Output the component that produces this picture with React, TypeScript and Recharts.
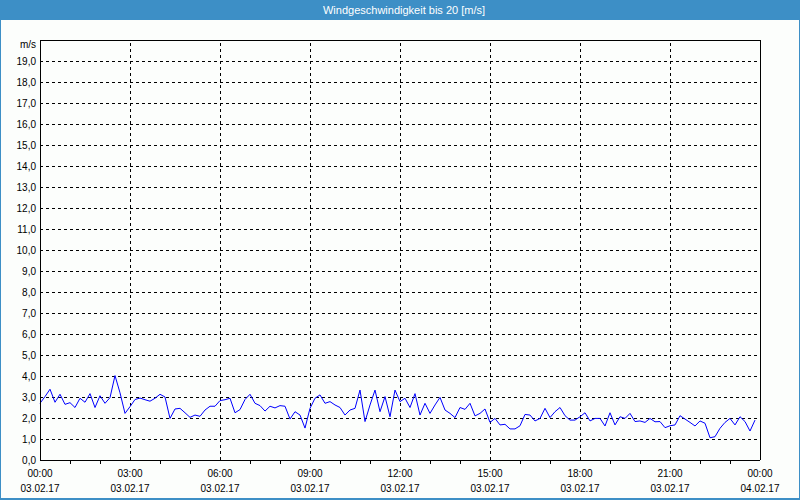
import React from 'react';
import { LineChart, Line, XAxis, YAxis, CartesianGrid, ReferenceLine } from 'recharts';

const title = 'Windgeschwindigkeit bis 20 [m/s]';
const unitLabel = 'm/s';

// wind speed every 10 minutes, 03.02.17 00:00 .. 23:50
const speeds: number[] = [
  2.70, 3.02, 3.37, 2.75, 3.13, 2.65, 2.73, 2.50, 2.94, 2.75,
  3.16, 2.50, 3.06, 2.70, 2.97, 4.02, 3.20, 2.22, 2.54, 2.88,
  2.95, 2.87, 2.80, 2.94, 3.13, 3.00, 1.98, 2.43, 2.46, 2.25,
  2.03, 2.14, 2.08, 2.38, 2.56, 2.56, 2.83, 2.87, 2.94, 2.25,
  2.40, 2.88, 3.13, 2.70, 2.59, 2.33, 2.56, 2.48, 2.59, 2.56,
  1.95, 2.30, 2.14, 1.52, 2.46, 2.94, 3.10, 2.70, 2.78, 2.62,
  2.50, 2.14, 2.38, 2.46, 3.33, 1.83, 2.62, 3.33, 2.30, 3.02,
  2.06, 3.33, 2.78, 2.94, 2.50, 3.16, 2.14, 2.70, 2.22, 2.62,
  2.98, 2.38, 2.22, 2.02, 2.50, 2.41, 2.70, 2.10, 2.22, 2.43,
  1.79, 1.98, 1.67, 1.70, 1.48, 1.48, 1.63, 2.17, 2.14, 1.86,
  1.98, 2.46, 2.02, 2.30, 2.50, 2.11, 1.90, 1.90, 2.06, 2.25,
  1.86, 1.98, 1.98, 1.62, 2.25, 1.67, 2.06, 1.98, 2.22, 1.83,
  1.86, 1.79, 1.98, 1.82, 1.83, 1.54, 1.63, 1.67, 2.11, 1.95,
  1.79, 1.62, 1.86, 1.75, 1.06, 1.11, 1.51, 1.79, 1.98, 1.67,
  2.06, 1.83, 1.38, 1.90,
];

// x ticks in 10-minute steps (every hour)
const hourTicks: number[] = [0, 6, 12, 18, 24, 30, 36, 42, 48, 54, 60, 66, 72, 78, 84, 90, 96, 102, 108, 114, 120, 126, 132, 138, 144];
const labelTicks: number[] = [0, 18, 36, 54, 72, 90, 108, 126, 144];
const timeLabels: string[] = ['00:00', '03:00', '06:00', '09:00', '12:00', '15:00', '18:00', '21:00', '00:00'];
const dateLabels: string[] = ['03.02.17', '03.02.17', '03.02.17', '03.02.17', '03.02.17', '03.02.17', '03.02.17', '03.02.17', '04.02.17'];
const gridTicks: number[] = [18, 36, 54, 72, 90, 108, 126];
const yTicks: number[] = [0, 1, 2, 3, 4, 5, 6, 7, 8, 9, 10, 11, 12, 13, 14, 15, 16, 17, 18, 19, 20];

const data = speeds.map((v, i) => ({ t: i, v }));

const FONT = '"Liberation Sans", Arial, sans-serif';

const XTick = (props: any) => {
  const { x, y, payload } = props;
  const idx = labelTicks.indexOf(payload.value);
  if (idx < 0) {
    return <line x1={x} x2={x} y1={y} y2={y + 4} stroke="#000" strokeWidth={1} shapeRendering="crispEdges" />;
  }
  return (
    <g>
      <text x={x} y={y + 17} textAnchor="middle" fontFamily={FONT} fontSize={10} fill="#000">{timeLabels[idx]}</text>
      <text x={x} y={y + 32} textAnchor="middle" fontFamily={FONT} fontSize={10} fill="#000">{dateLabels[idx]}</text>
    </g>
  );
};

const YTick = (props: any) => {
  const { x, y, payload } = props;
  const v = payload.value as number;
  const label = v === 20 ? unitLabel : v.toFixed(1).replace('.', ',');
  return (
    <text x={x} y={y + (v === 20 ? 8 : 4)} textAnchor="end" fontFamily={FONT} fontSize={10} fill="#000">{label}</text>
  );
};

export default function App() {
  return (
    <div style={{ position: 'absolute', left: 0, top: 0, width: 800, height: 500, background: '#3d8fc6' }}>
      <div style={{ position: 'absolute', left: 0, top: 0, width: 800, height: 20, color: '#fff', fontFamily: FONT, fontSize: 11, lineHeight: '20px', textAlign: 'center', paddingLeft: 8, boxSizing: 'border-box' }}>
        {title}
      </div>
      <div style={{ position: 'absolute', left: 1, top: 20, width: 798, height: 478, background: '#fcfefc' }} />
      <div style={{ position: 'absolute', left: 0, top: 20 }}>
        <LineChart width={800} height={480} data={data} margin={{ top: 20, right: 40, bottom: 20, left: 8 }}>
          <CartesianGrid vertical={false} stroke="#000" strokeDasharray="3 3" shapeRendering="crispEdges" />
          <XAxis
            dataKey="t"
            type="number"
            domain={[0, 144]}
            ticks={hourTicks}
            interval={0}
            height={20}
            tickSize={0}
            tickMargin={0}
            tickLine={false}
            axisLine={{ stroke: '#000', shapeRendering: 'crispEdges' }}
            tick={<XTick />}
          />
          <YAxis
            type="number"
            domain={[0, 20]}
            ticks={yTicks}
            interval={0}
            width={32}
            tickSize={0}
            tickMargin={4}
            tickLine={false}
            axisLine={{ stroke: '#000', shapeRendering: 'crispEdges' }}
            tick={<YTick />}
          />
          {gridTicks.map((g) => (
            <ReferenceLine key={g} x={g} stroke="#000" strokeDasharray="3 3" shapeRendering="crispEdges" />
          ))}
          <ReferenceLine y={20} stroke="#000" shapeRendering="crispEdges" />
          <ReferenceLine x={144} stroke="#000" shapeRendering="crispEdges" />
          <Line type="linear" dataKey="v" stroke="#0000ff" strokeWidth={1} dot={false} isAnimationActive={false} />
        </LineChart>
      </div>
    </div>
  );
}
